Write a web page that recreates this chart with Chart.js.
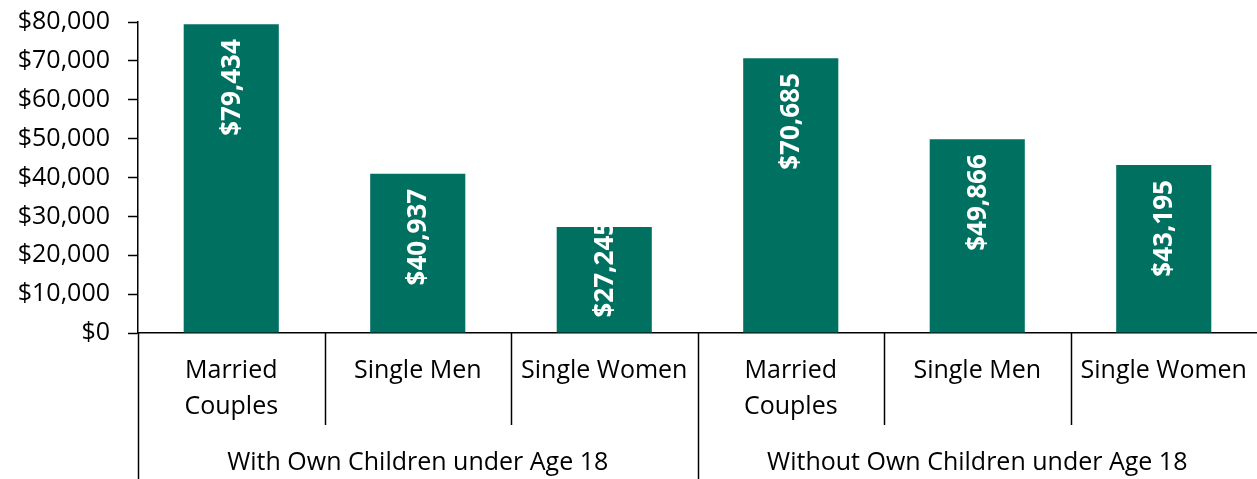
<!DOCTYPE html>
<html>
<head>
<meta charset="utf-8">
<script src="https://cdn.jsdelivr.net/npm/chart.js@4"></script>
<style>
  body { margin: 0; background: #fff; }
  #wrap { width: 1257px; height: 479px; }
</style>
</head>
<body>
<div id="wrap"><canvas id="myChart"></canvas></div>
<script>
const categories = [["Married", "Couples"], "Single Men", "Single Women", ["Married", "Couples"], "Single Men", "Single Women"];
const groups = ["With Own Children under Age 18", "Without Own Children under Age 18"];
const groupSize = 3;
const incomes = [79434, 40937, 27245, 70685, 49866, 43195];
const yTicksMax = 80000;

const barColor = "rgb(0, 112, 96)";
const fontName = "'Open Sans', sans-serif";

function money(v) {
  return "$" + v.toLocaleString("en-US");
}

// white rotated labels inside the top of each bar
const barLabels = {
  id: "barLabels",
  afterDatasetsDraw(chart) {
    const ctx = chart.ctx;
    const meta = chart.getDatasetMeta(0);
    ctx.save();
    ctx.fillStyle = "#fff";
    ctx.font = "bold 26px " + fontName;
    ctx.textAlign = "left";
    ctx.textBaseline = "middle";
    meta.data.forEach((bar, i) => {
      const txt = money(incomes[i]);
      const len = ctx.measureText(txt).width;
      let start = bar.y + 15 + len;
      if (start > bar.base - 15) start = bar.base - 15;
      ctx.save();
      ctx.translate(bar.x, start);
      ctx.rotate(-Math.PI / 2);
      ctx.fillText(txt, 0, 1);
      ctx.restore();
    });
    ctx.restore();
  }
};

// category labels, separators and group labels under the x axis
const groupAxis = {
  id: "groupAxis",
  afterDraw(chart) {
    const ctx = chart.ctx;
    const x = chart.scales.x;
    const top = x.top;
    const h = chart.height;
    const edge = i => {
      if (i <= 0) return x.left;
      if (i >= categories.length) return x.right;
      return (x.getPixelForValue(i - 1) + x.getPixelForValue(i)) / 2;
    };
    ctx.save();
    ctx.strokeStyle = "#000";
    ctx.lineWidth = 1.5;
    for (let i = 0; i < categories.length; i++) {
      const px = Math.round(edge(i)) + 0.5;
      const bottom = (i % groupSize === 0) ? h : top + 92;
      ctx.beginPath();
      ctx.moveTo(px, top);
      ctx.lineTo(px, bottom);
      ctx.stroke();
    }
    ctx.fillStyle = "#000";
    ctx.font = "25px " + fontName;
    ctx.textAlign = "center";
    ctx.textBaseline = "middle";
    categories.forEach((c, i) => {
      const lines = Array.isArray(c) ? c : [c];
      const cx = x.getPixelForValue(i);
      lines.forEach((ln, k) => ctx.fillText(ln, cx, top + 38 + k * 36));
    });
    groups.forEach((g, gi) => {
      const left = edge(gi * groupSize);
      const right = edge((gi + 1) * groupSize);
      ctx.fillText(g, (left + right) / 2, top + 130);
    });
    ctx.restore();
  }
};

const ctx = document.getElementById("myChart").getContext("2d");

const chart = new Chart(ctx, {
  type: "bar",
  data: {
    labels: categories,
    datasets: [
      {
        data: incomes,
        backgroundColor: barColor,
        borderWidth: 0,
        barPercentage: 1,
        categoryPercentage: 0.51
      }
    ]
  },
  options: {
    responsive: true,
    maintainAspectRatio: false,
    animation: false,
    layout: { padding: 0 },
    plugins: {
      legend: { display: false },
      tooltip: { enabled: false }
    },
    scales: {
      x: {
        grid: { display: false, drawTicks: false },
        border: { display: true, color: "#000", width: 1.5 },
        ticks: { display: false },
        afterFit(scale) { scale.height = 146; }
      },
      y: {
        min: 0,
        max: yTicksMax,
        grid: { drawOnChartArea: false, tickLength: 10, color: "#000", tickWidth: 1.5 },
        border: { display: true, color: "#000", width: 1.5 },
        ticks: {
          stepSize: 10000,
          color: "#000",
          padding: 18,
          font: { family: fontName, size: 25 },
          callback: v => money(v)
        },
        afterFit(scale) {
          scale.width = 138;
          scale.paddingTop = 22;
          scale.paddingBottom = 0;
        }
      }
    }
  },
  plugins: [barLabels, groupAxis]
});
</script>
</body>
</html>
